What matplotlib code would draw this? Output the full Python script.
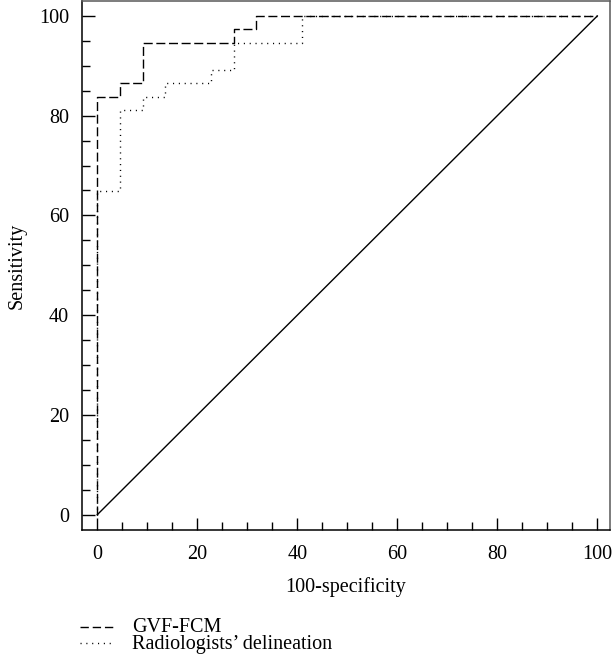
import matplotlib
matplotlib.use('Agg')
import matplotlib.pyplot as plt
from matplotlib.lines import Line2D
from matplotlib.ticker import MultipleLocator

plt.rcParams['font.family'] = ['Liberation Serif', 'DejaVu Serif']

# ROC points (100-specificity, sensitivity)
gvf_x = [0, 0, 4.5, 4.5, 9.1, 9.1, 27.3, 27.3, 31.8, 31.8, 100]
gvf_y = [0, 83.8, 83.8, 86.5, 86.5, 94.6, 94.6, 97.3, 97.3, 100, 100]

rad_x = [0, 0, 4.5, 4.5, 9.1, 9.1, 13.6, 13.6, 22.7, 22.7, 27.3, 27.3, 40.9, 40.9, 100]
rad_y = [0, 64.9, 64.9, 81.1, 81.1, 83.8, 83.8, 86.5, 86.5, 89.2, 89.2, 94.6, 94.6, 100, 100]

diag = [0, 100]
legend_labels = ['GVF-FCM', 'Radiologists\u2019 delineation']

fig = plt.figure(figsize=(6.13, 6.70), dpi=100)
ax = fig.add_axes([0.133, 0.209, 0.8613, 0.7888])

ax.plot(diag, diag, color='black', lw=1.0)
ax.plot(rad_x, rad_y, color='black', lw=1.0, dashes=(0.8, 3.4))
ax.plot(gvf_x, gvf_y, color='black', lw=1.0, dashes=(6.5, 2.6))

ax.set_xlim(-3.16, 102.44)
ax.set_ylim(-3.07, 102.9)

ax.xaxis.set_major_locator(MultipleLocator(20))
ax.xaxis.set_minor_locator(MultipleLocator(5))
ax.yaxis.set_major_locator(MultipleLocator(20))
ax.yaxis.set_minor_locator(MultipleLocator(5))
ax.tick_params(which='major', direction='in', length=9, width=1, labelsize=14.5)
ax.tick_params(which='minor', direction='in', length=5.5, width=1)
ax.tick_params(axis='x', which='major', pad=10.5)
ax.tick_params(axis='y', which='major', pad=9)

for s in ax.spines.values():
    s.set_linewidth(1.1)
ax.spines['top'].set_color('0.35')
ax.spines['right'].set_color('0.35')

ax.set_xlabel('100-specificity', fontsize=14.5, labelpad=10)
ax.set_ylabel('Sensitivity', fontsize=14.5, labelpad=9)

# legend below the axes
W, H = 613.0, 670.0
fig.add_artist(Line2D([80 / W, 114 / W], [1 - 627 / H, 1 - 627 / H],
                      color='black', lw=1.0, dashes=(6, 2.8)))
fig.add_artist(Line2D([80 / W, 114 / W], [1 - 643 / H, 1 - 643 / H],
                      color='black', lw=1.0, dashes=(0.8, 3.4)))
fig.text(132 / W, 1 - 627 / H, legend_labels[0], fontsize=14.5, va='center')
fig.text(132 / W, 1 - 645 / H, legend_labels[1], fontsize=14.5, va='center')

fig.savefig('out.png', dpi=100)
